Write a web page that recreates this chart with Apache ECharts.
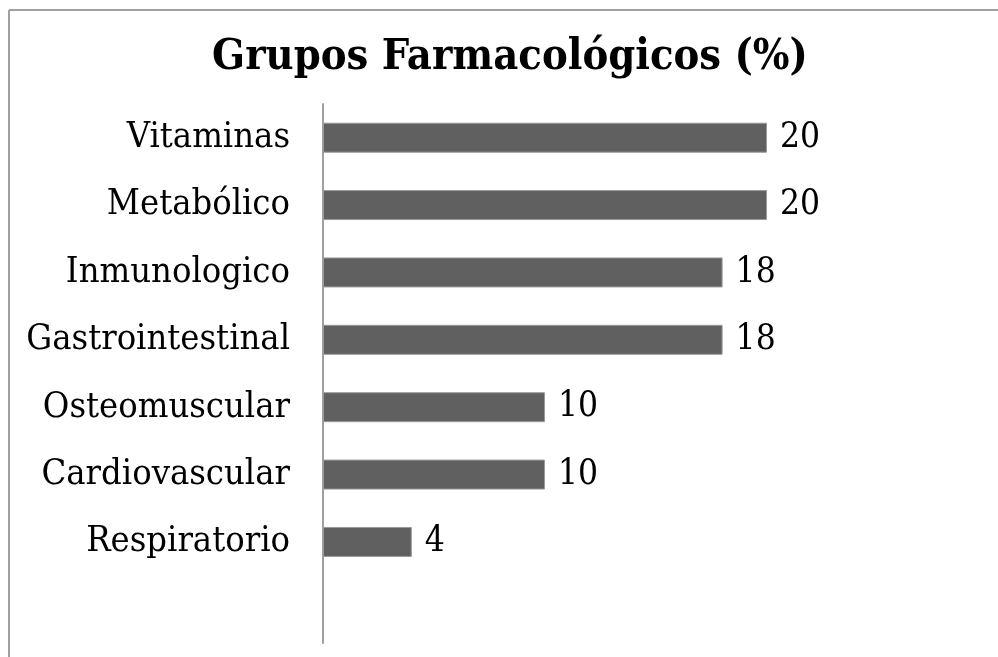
<!DOCTYPE html>
<html>
<head>
<meta charset="utf-8">
<script src="https://cdn.jsdelivr.net/npm/echarts@6/dist/echarts.min.js"></script>
<style>html,body{margin:0;padding:0;background:#fff}#c{width:998px;height:657px}</style>
</head>
<body>
<div id="c"></div>
<script>
var categories = ['Vitaminas','Metabólico','Inmunologico','Gastrointestinal','Osteomuscular','Cardiovascular','Respiratorio',''];
var values = [20,20,18,18,10,10,4,null];
var titleText = 'Grupos Farmacológicos (%)';

var chart = echarts.init(document.getElementById('c'));
chart.setOption({
  animation: false,
  title: {
    text: titleText, left: 505, top: 31, textAlign: 'center',
    textStyle: {fontFamily: 'DejaVu Serif Condensed', fontWeight: 'bold', fontSize: 43, color: '#000'}
  },
  grid: {left: 323, top: 104, width: 444, height: 539, containLabel: false},
  xAxis: {type: 'value', min: 0, max: 20, show: false},
  yAxis: {
    type: 'category', data: categories, inverse: true,
    axisLine: {show: true, lineStyle: {color: '#a0a0a0', width: 2}},
    axisTick: {show: false},
    axisLabel: {margin: 33, fontFamily: 'DejaVu Serif Condensed', fontSize: 36, color: '#000'}
  },
  series: [{
    type: 'bar', data: values, barWidth: 30,
    itemStyle: {color: '#606060', borderColor: '#9a9a9a', borderWidth: 1},
    label: {show: true, position: 'right', distance: 13, fontFamily: 'DejaVu Serif Condensed', fontSize: 35, color: '#000'}
  }],
  graphic: [
    {type: 'line', shape: {x1: 9, y1: 10, x2: 998, y2: 10}, style: {stroke: '#a0a0a0', lineWidth: 2}},
    {type: 'line', shape: {x1: 9, y1: 10, x2: 9, y2: 657}, style: {stroke: '#a0a0a0', lineWidth: 2}}
  ]
});
</script>
</body>
</html>
